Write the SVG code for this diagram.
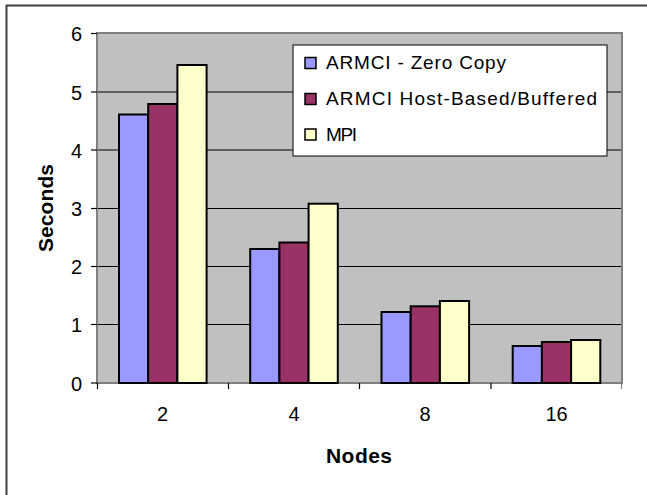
<svg xmlns="http://www.w3.org/2000/svg" width="647" height="495" viewBox="0 0 647 495">
  <style>
    .tick { font-family: "Liberation Sans", Arial, sans-serif; font-size: 20px; fill: #000; }
    .title { font-family: "Liberation Sans", Arial, sans-serif; font-size: 21px; font-weight: bold; fill: #000; }
    .leg { font-family: "Liberation Sans", Arial, sans-serif; font-size: 19px; fill: #000; }
    .grid { stroke: #000; stroke-width: 1.2; }
    .tk { stroke: #000; stroke-width: 1.2; }
    .bar { stroke: #000; stroke-width: 2; }
    .s1 { fill: #9999FF; }
    .s2 { fill: #993366; }
    .s3 { fill: #FFFFCC; }
  </style>

  <!-- chart frame -->
  <rect x="0" y="0" width="647" height="495" fill="#fff"/>
  <path d="M6.5,495 V5.5 H647" fill="none" stroke="#404040" stroke-width="2"/>

  <!-- plot area -->
  <g id="plot-area">
    <rect x="97" y="33" width="525" height="350" fill="#C0C0C0"/>
    <g id="gridlines">
      <line class="grid" x1="97" y1="324.5" x2="622" y2="324.5"/>
      <line class="grid" x1="97" y1="266.5" x2="622" y2="266.5"/>
      <line class="grid" x1="97" y1="208.5" x2="622" y2="208.5"/>
      <line class="grid" x1="97" y1="150" x2="622" y2="150"/>
      <line class="grid" x1="97" y1="92" x2="622" y2="92"/>
    </g>
    <rect x="97" y="33" width="525" height="350" fill="none" stroke="#808080" stroke-width="2"/>
  </g>

  <!-- value axis -->
  <g id="y-axis">
    <line x1="97" y1="33" x2="97" y2="383" stroke="#808080" stroke-width="2"/>
    <line class="tk" x1="91" y1="383" x2="97" y2="383"/>
    <line class="tk" x1="91" y1="324.5" x2="97" y2="324.5"/>
    <line class="tk" x1="91" y1="266.5" x2="97" y2="266.5"/>
    <line class="tk" x1="91" y1="208.5" x2="97" y2="208.5"/>
    <line class="tk" x1="91" y1="150" x2="97" y2="150"/>
    <line class="tk" x1="91" y1="92" x2="97" y2="92"/>
    <line class="tk" x1="91" y1="33.5" x2="97" y2="33.5"/>
    <g class="tick" text-anchor="end">
      <text x="82" y="390.5">0</text>
      <text x="82" y="332">1</text>
      <text x="82" y="274">2</text>
      <text x="82" y="216">3</text>
      <text x="82" y="157.5">4</text>
      <text x="82" y="99.5">5</text>
      <text x="82" y="41">6</text>
    </g>
    <text class="title" transform="translate(53,208) rotate(-90)" text-anchor="middle" textLength="88" lengthAdjust="spacing">Seconds</text>
  </g>

  <!-- category axis -->
  <g id="x-axis">
    <line x1="97" y1="383" x2="622" y2="383" stroke="#808080" stroke-width="2"/>
    <line class="tk" x1="97.5" y1="383" x2="97.5" y2="389"/>
    <line class="tk" x1="228.5" y1="383" x2="228.5" y2="389"/>
    <line class="tk" x1="359.5" y1="383" x2="359.5" y2="389"/>
    <line class="tk" x1="491" y1="383" x2="491" y2="389"/>
    <line x1="621.5" y1="383" x2="621.5" y2="389" stroke="#808080" stroke-width="1.2"/>
    <g class="tick" text-anchor="middle">
      <text x="162.5" y="421">2</text>
      <text x="294" y="421">4</text>
      <text x="425" y="421">8</text>
      <text x="556.5" y="421">16</text>
    </g>
    <text class="title" x="359" y="463" text-anchor="middle" textLength="66" lengthAdjust="spacing">Nodes</text>
  </g>

  <!-- bars: ARMCI - Zero Copy -->
  <g id="series-zero-copy" class="bar s1">
    <rect x="119" y="114.5" width="29.2" height="268.5"/>
    <rect x="250.2" y="249" width="29.2" height="134"/>
    <rect x="381.5" y="312" width="29.2" height="71"/>
    <rect x="512.7" y="346" width="29.2" height="37"/>
  </g>
  <!-- bars: ARMCI Host-Based/Buffered -->
  <g id="series-host-based" class="bar s2">
    <rect x="148.2" y="104" width="29.2" height="279"/>
    <rect x="279.4" y="242.5" width="29.2" height="140.5"/>
    <rect x="410.7" y="306.3" width="29.2" height="76.7"/>
    <rect x="541.9" y="342" width="29.2" height="41"/>
  </g>
  <!-- bars: MPI -->
  <g id="series-mpi" class="bar s3">
    <rect x="177.4" y="65" width="29.2" height="318"/>
    <rect x="308.6" y="203.7" width="29.2" height="179.3"/>
    <rect x="439.9" y="301" width="29.2" height="82"/>
    <rect x="571.1" y="340" width="29.2" height="43"/>
  </g>

  <!-- legend -->
  <g id="legend">
    <rect x="293" y="45" width="314" height="111" fill="#fff" stroke="#000" stroke-width="1"/>
    <rect class="s1" x="305" y="57.5" width="11" height="11" stroke="#000" stroke-width="1.5"/>
    <rect class="s2" x="305" y="93.5" width="11" height="11" stroke="#000" stroke-width="1.5"/>
    <rect class="s3" x="305" y="129" width="11" height="11" stroke="#000" stroke-width="1.5"/>
    <text class="leg" x="326" y="68.5" textLength="180" lengthAdjust="spacing">ARMCI - Zero Copy</text>
    <text class="leg" x="326" y="105" textLength="271" lengthAdjust="spacing">ARMCI Host-Based/Buffered</text>
    <text class="leg" x="326" y="140.5" textLength="31" lengthAdjust="spacing">MPI</text>
  </g>
</svg>
